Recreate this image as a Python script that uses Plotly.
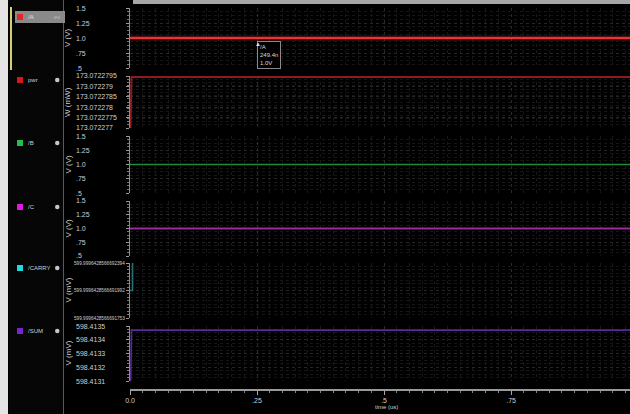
import plotly.graph_objects as go

# ---------------- data ----------------
time_us = [0.0, 0.003, 1.0]
a_v = [1.0, 1.0, 1.0]
pwr_mw = [173.0722760, 173.07227945, 173.07227945]
b_v = [1.0, 1.0, 1.0]
c_v = [1.0, 1.0, 1.0]
carry_t = [0.0, 0.005, 0.005, 1.0]
carry_lvl = [1.0, 1.0, 2.4, 2.4]
sum_mv = [598.4128, 598.41347, 598.41347]

signal_names = ["/A", "pwr", "/B", "/C", "/CARRY", "/SUM"]
unit_labels = ["V (V)", "W (mW)", "V (V)", "V (V)", "V (mV)", "V (mV)"]

v_ticks = [0.5, 0.75, 1.0, 1.25, 1.5]
v_text = [".5", ".75", "1.0", "1.25", "1.5"]
pwr_ticks = [173.072277, 173.0722775, 173.072278, 173.0722785, 173.072279, 173.0722795]
pwr_text = ["173.072277", "173.0722775", "173.072278", "173.0722785", "173.072279", "173.0722795"]
carry_ticks = [0, 1, 2]
carry_text = ["599.9996428566691753", "599.9996428566691992", "599.9996428566692394"]
sum_ticks = [598.4131, 598.4132, 598.4133, 598.4134, 598.4135]
sum_text = ["598.4131", "598.4132", "598.4133", "598.4134", "598.4135"]
x_ticks = [0.0, 0.25, 0.5, 0.75]
x_text = ["0.0", ".25", ".5", ".75"]
x_title = "time (us)"
marker_t = 0.2494
marker_label = "/A<br>249.4n<br>1.0V"

# ---------------- styles / layout ----------------
W, H = 630, 414
ML, MB = 130, 24
PW, PH = W - ML, H - MB


def px2x(px):
    return (px - ML) / PW


def py2y(py):
    return (PH - py) / PH


strips = [(8, 68), (76, 128), (136, 193), (201, 256), (263, 318), (326, 381)]
sq_colors = ["#e52424", "#d81818", "#22c04a", "#e018e0", "#20d8e0", "#7a22d0"]
line_colors = ["#e83434", "#8e1c1c", "#1f8c3c", "#9a2a9e", "#2a7070", "#5a2a9a"]
tick_sets = [(v_ticks, v_text), (pwr_ticks, pwr_text), (v_ticks, v_text),
             (v_ticks, v_text), (carry_ticks, carry_text), (sum_ticks, sum_text)]
item_py = [17, 80, 143, 207, 268, 331]

FONT = "Liberation Sans Narrow, Liberation Sans, Arial, sans-serif"
TXT = "#cfcfcf"

fig = go.Figure()

series = [
    (time_us, a_v), (time_us, pwr_mw), (time_us, b_v),
    (time_us, c_v), (carry_t, carry_lvl), (time_us, sum_mv),
]
# glow for /A
fig.add_trace(go.Scatter(x=time_us, y=a_v, mode="lines", yaxis="y",
                         line=dict(color="rgba(230,40,40,0.35)", width=5),
                         hoverinfo="skip", showlegend=False))
for i, (xs, ys) in enumerate(series):
    fig.add_trace(go.Scatter(
        x=xs, y=ys, mode="lines", yaxis="y" if i == 0 else f"y{i+1}",
        line=dict(color=line_colors[i], width=2 if i in (0, 1, 3) else 1.6),
        name=signal_names[i], showlegend=False))

layout = dict(
    width=W, height=H,
    margin=dict(l=ML, r=0, t=0, b=MB),
    paper_bgcolor="#000000", plot_bgcolor="#000000",
    font=dict(family=FONT, color=TXT, size=7),
    showlegend=False,
    xaxis=dict(
        domain=[0, 1], range=[0, 0.984], anchor="free", position=0,
        tickmode="array", tickvals=x_ticks, ticktext=x_text,
        ticks="outside", ticklen=4, tickcolor="#aaaaaa",
        showline=True, linecolor="#9a9a9a", linewidth=1.5,
        tickfont=dict(size=7, color=TXT),
        showgrid=True, gridcolor="#2a2a2a", griddash="dot", zeroline=False,
        minor=dict(dtick=0.025, tick0=0, ticks="outside", ticklen=2,
                   tickcolor="#888888", showgrid=True, gridcolor="#181818",
                   griddash="dot"),
    ),
)

annotations = []
shapes = []
for i, (top, bot) in enumerate(strips):
    tv, tt = tick_sets[i]
    lo, hi = tv[0], tv[-1]
    key = "yaxis" if i == 0 else f"yaxis{i+1}"
    yref = "y" if i == 0 else f"y{i+1}"
    layout[key] = dict(
        domain=[py2y(bot), py2y(top)], range=[lo, hi], anchor="x",
        tickmode="array", tickvals=tv, showticklabels=False,
        ticks="outside", ticklen=3, tickcolor="#9a9a9a",
        showline=True, linecolor="#8c8c8c", linewidth=1,
        showgrid=True, gridcolor="#262626", griddash="dot", zeroline=False,
        minor=dict(tick0=lo, dtick=(hi - lo) / 16, ticks="outside", ticklen=2,
                   tickcolor="#777777", showgrid=True, gridcolor="#161616",
                   griddash="dot"),
    )
    for v, t in zip(tv, tt):
        annotations.append(dict(
            xref="paper", yref=yref, x=px2x(72 if i == 4 else 74), y=v, text=t,
            xanchor="left", yanchor="middle", showarrow=False,
            font=dict(size=4.7 if i == 4 else 7, color=TXT, family=FONT)))
    annotations.append(dict(
        xref="paper", yref="paper", x=px2x(68), y=py2y((top + bot) / 2),
        text=unit_labels[i], textangle=-90, showarrow=False,
        xanchor="center", yanchor="middle",
        font=dict(size=8, color=TXT, family=FONT)))

# x-axis title
annotations.append(dict(
    xref="paper", yref="paper", x=px2x(386), y=py2y(407), text=x_title,
    xanchor="center", yanchor="middle", showarrow=False,
    font=dict(size=6, color=TXT, family=FONT)))

# ----- left name panel -----
yb = py2y(H)
shapes.append(dict(type="rect", xref="paper", yref="paper",
                   x0=px2x(0), x1=px2x(8), y0=yb, y1=1, fillcolor="#e4e4e4",
                   line=dict(width=0), layer="above"))
shapes.append(dict(type="rect", xref="paper", yref="paper",
                   x0=px2x(9), x1=px2x(63), y0=yb, y1=1, fillcolor="#060606",
                   line=dict(width=0), layer="below"))
shapes.append(dict(type="line", xref="paper", yref="paper",
                   x0=px2x(63.5), x1=px2x(63.5), y0=yb, y1=1,
                   line=dict(color="#5a5a5a", width=1)))
shapes.append(dict(type="line", xref="paper", yref="paper",
                   x0=px2x(11), x1=px2x(11), y0=py2y(70), y1=py2y(7),
                   line=dict(color="#d6cf72", width=2)))
# top grey bar
shapes.append(dict(type="rect", xref="paper", yref="paper",
                   x0=px2x(133), x1=1, y0=py2y(4), y1=1, fillcolor="#a6a6a6",
                   line=dict(width=0)))
# highlight for first item
shapes.append(dict(type="rect", xref="paper", yref="paper",
                   x0=px2x(15), x1=px2x(65), y0=py2y(23), y1=py2y(11),
                   fillcolor="#8a8a8a", line=dict(width=0)))

for i, py in enumerate(item_py):
    shapes.append(dict(type="rect", xref="paper", yref="paper",
                       x0=px2x(17), x1=px2x(23), y0=py2y(py + 3), y1=py2y(py - 3),
                       fillcolor=sq_colors[i], line=dict(width=0)))
    annotations.append(dict(
        xref="paper", yref="paper", x=px2x(26), y=py2y(py), text=signal_names[i],
        xanchor="left", yanchor="middle", showarrow=False,
        font=dict(size=6, color="#e0e0e0" if i == 0 else "#cfcfcf", family=FONT)))
    if i == 0:
        annotations.append(dict(
            xref="paper", yref="paper", x=px2x(57), y=py2y(py), text="ev",
            xanchor="center", yanchor="middle", showarrow=False,
            font=dict(size=6, color="#bdbdbd", family=FONT)))
    else:
        shapes.append(dict(type="circle", xref="paper", yref="paper",
                           x0=px2x(55), x1=px2x(59.5), y0=py2y(py + 2.3), y1=py2y(py - 2.3),
                           fillcolor="#c4c4d4", line=dict(width=0)))

# marker tooltip
annotations.append(dict(
    xref="x", yref="y", x=marker_t, y=1.0, text=marker_label,
    xanchor="left", yanchor="top", showarrow=False, align="left",
    yshift=-3, bgcolor="#000000", bordercolor="#8a8a8a", borderwidth=1,
    borderpad=2, font=dict(size=6, color="#d8d8d8", family=FONT)))
annotations.append(dict(
    xref="x", yref="y", x=marker_t, y=1.0, text="▲",
    xanchor="center", yanchor="top", showarrow=False, xshift=1, yshift=-1,
    font=dict(size=6, color="#e0e0e0")))

layout["annotations"] = annotations
layout["shapes"] = shapes
fig.update_layout(**layout)

fig.write_html(
    "out.html",
    config={"displayModeBar": False},
    post_script="document.body.style.margin='0';document.body.style.background='#000';",
)
